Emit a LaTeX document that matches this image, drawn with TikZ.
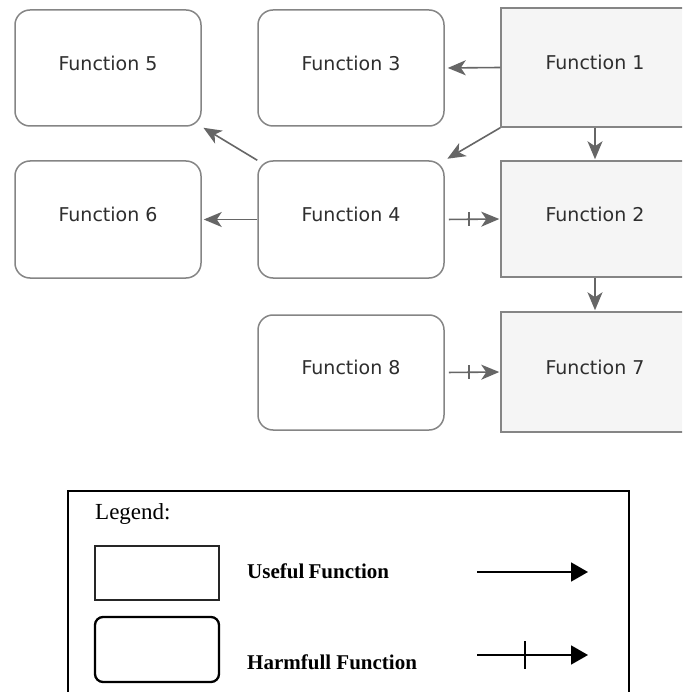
\documentclass[tikz,border=0pt]{standalone}
\usepackage{fontspec}
\setmainfont{Liberation Serif}
\newfontfamily\diagfont{DejaVu Sans}
\usetikzlibrary{arrows.meta,calc}
\definecolor{boxline}{HTML}{858585}
\definecolor{boxfill}{HTML}{F5F5F5}
\definecolor{arrowgray}{HTML}{666666}
\definecolor{textgray}{HTML}{2E2E2E}
\tikzset{
  fbase/.style={draw=boxline, line width=1.5pt, inner sep=0pt,
    minimum width=186pt, font=\diagfont\fontsize{19}{22}\selectfont,
    text=textgray, text height=15pt, text depth=10.5pt},
  useful/.style={fbase, fill=boxfill, minimum width=188pt},
  harmful/.style={fbase, fill=white, rounded corners=15pt},
  conn/.style={draw=arrowgray, line width=1.6pt,
    -{Stealth[length=18pt,width=15pt,inset=5pt]}},
  tickline/.style={draw=arrowgray, line width=1.4pt},
  legline/.style={draw=black, line width=1.8pt,
    -{Triangle[length=17pt,width=19pt]}},
  legtext/.style={anchor=base west, inner sep=0pt, font=\fontsize{21}{24}\selectfont},
}
\begin{document}
\begin{tikzpicture}[x=1pt,y=-1pt]
\useasboundingbox (0,0) rectangle (682,692);
\clip (0,0) rectangle (682,692);
\fill[white] (0,0) rectangle (682,692);
% function nodes
\node[harmful, minimum height=116pt] (f5) at (108,68) {Function 5};
\node[harmful, minimum height=116pt] (f3) at (351,68) {Function 3};
\node[useful, minimum height=119pt] (f1) at (595,67.5) {Function 1};
\node[harmful, minimum height=117pt] (f6) at (108,219.5) {Function 6};
\node[harmful, minimum height=117pt] (f4) at (351,219.5) {Function 4};
\node[useful, minimum height=116pt] (f2) at (595,219) {Function 2};
\node[harmful, minimum height=115pt] (f8) at (351,372.5) {Function 8};
\node[useful, minimum height=120pt] (f7) at (595,372) {Function 7};
% connectors
\draw[conn, shorten >=3pt] (f1.west) -- (f3.east);
\draw[conn, shorten >=1pt] (f1.south) -- (f2.north);
\draw[conn, shorten >=1pt] (f2.south) -- (f7.north);
\draw[conn, shorten >=3pt] (f1.south west) -- (f4.north east);
\draw[conn, shorten >=2pt] (f4.north west) -- (f5.south east);
\draw[conn, shorten >=2pt] (f4.west) -- (f6.east);
\draw[conn, shorten <=4pt, shorten >=1pt] (f4.east) -- (f2.west);
\draw[tickline] ($(f4.east)!0.44!(f2.west)$) ++(0,-7) -- ++(0,14);
\draw[conn, shorten <=4pt, shorten >=1pt] (f8.east) -- (f7.west);
\draw[tickline] ($(f8.east)!0.44!(f7.west)$) ++(0,-7) -- ++(0,14);
% legend frame
\draw[black, line width=2.2pt] (68,700) -- (68,491) -- (629,491) -- (629,700);
\node[legtext, font=\fontsize{23}{26}\selectfont] (legtitle) at (95,519) {Legend:};
\node[draw=black!85, line width=1.8pt, minimum width=124pt, minimum height=54pt, inner sep=0pt] (legu) at (157,573) {};
\node[draw=black, line width=2.3pt, rounded corners=8pt, minimum width=124pt, minimum height=65pt, inner sep=0pt] (legh) at (157,649.5) {};
\node[legtext, font=\bfseries\fontsize{21}{24}\selectfont] (utext) at (247,578) {Useful\kern-1pt{} Function};
\node[legtext, font=\bfseries\fontsize{21}{24}\selectfont] (htext) at (247,669) {Harmfull Function};
\coordinate (ua) at (477,572);
\coordinate (ub) at (588,572);
\coordinate (ha) at (477,655);
\coordinate (hb) at (588,655);
\draw[legline] (ua) -- (ub);
\draw[legline] (ha) -- (hb);
\draw[black, line width=1.8pt] (525,641) -- (525,669);
\end{tikzpicture}
\end{document}
